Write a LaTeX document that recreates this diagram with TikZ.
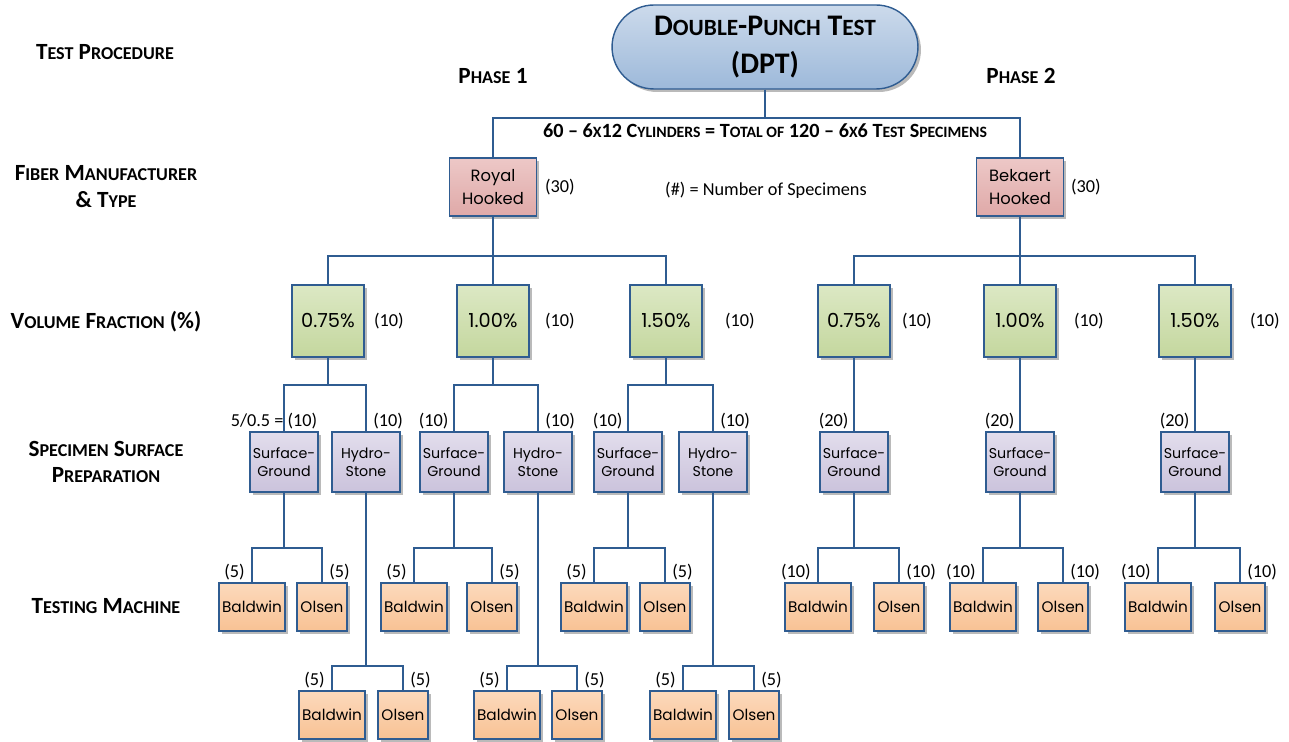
\documentclass[tikz,border=0pt]{standalone}
\usepackage{fontspec}
\setmainfont{Carlito}
\newfontfamily\boxfont{Poppins}
\usetikzlibrary{shadows}

\definecolor{wireblue}{HTML}{2F5C91}
\definecolor{pilltop}{HTML}{CCDAEB}
\definecolor{pillbot}{HTML}{9DB9DA}
\definecolor{fibtop}{HTML}{EDC8C7}
\definecolor{fibbot}{HTML}{DFA9A8}
\definecolor{voltop}{HTML}{DCE8C4}
\definecolor{volbot}{HTML}{C4D79E}
\definecolor{preptop}{HTML}{E2DDEC}
\definecolor{prepbot}{HTML}{CBC3DC}
\definecolor{machtop}{HTML}{FCD9BC}
\definecolor{machbot}{HTML}{F8C294}

% poor man's small caps
\newcommand\smc[1]{\scalebox{.78}{#1}}

\begin{document}
\begin{tikzpicture}[x=0.02cm, y=-0.02cm,
  wire/.style={draw=wireblue, line width=1.1pt},
  box/.style={draw=wireblue, line width=0.8pt, align=center, inner sep=1pt,
    drop shadow={shadow xshift=1.7pt, shadow yshift=-1.7pt, fill=black!45, opacity=.6}},
  pill/.style={box, rounded corners=0.84cm, top color=pilltop, bottom color=pillbot,
    minimum width=6.12cm, minimum height=1.68cm, font=\bfseries\fontsize{17}{21.5}\selectfont},
  fiber/.style={box, top color=fibtop, bottom color=fibbot, minimum width=1.74cm,
    minimum height=1.16cm, font=\boxfont\fontsize{9.3}{13}\selectfont},
  vol/.style={box, top color=voltop, bottom color=volbot, minimum width=1.44cm,
    minimum height=1.44cm, font=\boxfont\fontsize{11}{13}\selectfont},
  prep/.style={box, top color=preptop, bottom color=prepbot, minimum width=1.36cm,
    minimum height=1.2cm, font=\boxfont\fontsize{8.1}{10.3}\selectfont},
  mach/.style={box, top color=machtop, bottom color=machbot, minimum width=1.0cm,
    minimum height=0.96cm, font=\boxfont\fontsize{8.7}{10}\selectfont},
  cnt/.style={font=\fontsize{10.4}{12}\selectfont, inner sep=1pt},
  head/.style={font=\bfseries\fontsize{13.2}{15.3}\selectfont, align=center}
]
\useasboundingbox (0,0) rectangle (1289,742);

% row headings
\node[head] (hproc) at (105,52) {T\smc{EST} P\smc{ROCEDURE}};
\node[head] (hfib)  at (106,187) {F\smc{IBER} M\smc{ANUFACTURER}\\\& T\smc{YPE}};
\node[head] (hvol)  at (106,322) {V\smc{OLUME} F\smc{RACTION} (\%)};
\node[head] (hprep) at (106,462) {S\smc{PECIMEN} S\smc{URFACE}\\P\smc{REPARATION}};
\node[head] (hmach) at (106,606) {T\smc{ESTING} M\smc{ACHINE}};

\node[pill] (dpt) at (765,47) {D\smc{OUBLE}-P\smc{UNCH} T\smc{EST}\\(DPT)};
\node[head] (ph1) at (493,76) {P\smc{HASE} 1};
\node[head] (ph2) at (1021,76) {P\smc{HASE} 2};
\node[head, font=\bfseries\fontsize{11.5}{14}\selectfont] (total) at (765,131)
  {60 -- 6\smc{X}12 C\smc{YLINDERS} = T\smc{OTAL OF} 120 -- 6\smc{X}6 T\smc{EST} S\smc{PECIMENS}};
\node[cnt] (legend) at (766,190) {(\#) = Number of Specimens};

% fibres
\node[fiber] (royal) at (493,187) {Royal\\Hooked};
\node[fiber] (bekaert) at (1020,187) {Bekaert\\Hooked};
\node[cnt, anchor=west] at (543,187) {(30)};
\node[cnt, anchor=west] at (1069,187) {(30)};
\draw[wire] (dpt.south) -- ++(0,28) -| (royal.north);
\draw[wire] (dpt.south) -- ++(0,28) -| (bekaert.north);

% volume fractions
\foreach \f/\id/\x/\lx/\val in {royal/v11/328/372/0.75, royal/v12/493/543/1.00,
    royal/v13/666/723/1.50, bekaert/v21/854/900/0.75, bekaert/v22/1020/1072/1.00,
    bekaert/v23/1195/1248/1.50} {
  \node[vol] (\id) at (\x,321) {\val\%};
  \node[cnt, anchor=west] at (\lx,321) {(10)};
  \draw[wire] (\f.south) -- ++(0,39) -| (\id.north);
}

% surface preparation, phase 1
\node[prep] (s11a) at (284,462) {Surface-\\Ground};
\node[prep] (s11b) at (366,462) {Hydro-\\Stone};
\node[prep] (s12a) at (454,462) {Surface-\\Ground};
\node[prep] (s12b) at (538,462) {Hydro-\\Stone};
\node[prep] (s13a) at (628,462) {Surface-\\Ground};
\node[prep] (s13b) at (713,462) {Hydro-\\Stone};
\foreach \v/\a/\b in {v11/s11a/s11b, v12/s12a/s12b, v13/s13a/s13b} {
  \draw[wire] (\v.south) -- ++(0,27) -| (\a.north);
  \draw[wire] (\v.south) -- ++(0,27) -| (\b.north);
  \node[cnt, anchor=south west, xshift=3pt] at (\b.north) {(10)};
}
\node[cnt, anchor=south, xshift=-0.2cm] at (s11a.north) {5/0.5 = (10)};
\node[cnt, anchor=south east, xshift=-2pt] at (s12a.north) {(10)};
\node[cnt, anchor=south east, xshift=-2pt] at (s13a.north) {(10)};

% surface preparation, phase 2
\foreach \v/\id/\x in {v21/s21/854, v22/s22/1020, v23/s23/1195} {
  \node[prep] (\id) at (\x,462) {Surface-\\Ground};
  \draw[wire] (\v.south) -- (\id.north);
  \node[cnt, anchor=south east, xshift=-2pt] at (\id.north) {(20)};
}

% testing machines
\foreach \p/\id/\xb/\xo/\y/\d/\n in {s11a/a/252/322/607/55/5, s12a/b/414/492/607/55/5,
    s13a/c/594/665/607/55/5, s11b/d/332/403/715/173/5, s12b/e/507/577/715/173/5,
    s13b/f/683/754/715/173/5, s21/g/818/899/607/55/10, s22/h/983/1063/607/55/10,
    s23/i/1158/1240/607/55/10} {
  \node[mach, minimum width=1.32cm] (bal\id) at (\xb,\y) {Baldwin};
  \node[mach] (ols\id) at (\xo,\y) {Olsen};
  \draw[wire] (\p.south) -- ++(0,\d) -| (bal\id.north);
  \draw[wire] (\p.south) -- ++(0,\d) -| (ols\id.north);
  \node[cnt, anchor=south east, xshift=-3pt] at (bal\id.north) {(\n)};
  \node[cnt, anchor=south west, xshift=3pt] at (ols\id.north) {(\n)};
}
\end{tikzpicture}
\end{document}
